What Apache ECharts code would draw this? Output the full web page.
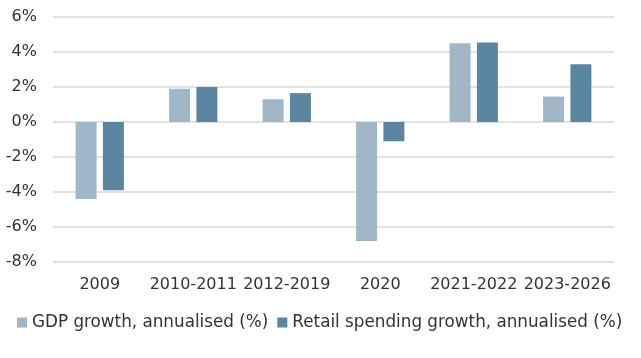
<!DOCTYPE html>
<html><head><meta charset="utf-8">
<script src="https://cdn.jsdelivr.net/npm/echarts@6/dist/echarts.min.js"></script>
<style>html,body{margin:0;padding:0;background:#fff}#c{width:641px;height:358px}</style>
</head><body><div id="c"></div>
<script>
const categories = ['2009','2010-2011','2012-2019','2020','2021-2022','2023-2026'];
const gdpGrowth = [-4.4, 1.9, 1.3, -6.8, 4.5, 1.45];
const retailGrowth = [-3.9, 2.0, 1.65, -1.1, 4.55, 3.3];
const seriesNames = ['GDP growth, annualised (%)', 'Retail spending growth, annualised (%)'];
const yTicks = {min: -8, max: 6, interval: 2};

const font = 'DejaVu Sans';
const chart = echarts.init(document.getElementById('c'), null, {renderer: 'canvas'});
chart.setOption({
  animation: false,
  textStyle: {fontFamily: font},
  grid: {left: 53, right: 27, top: 17, bottom: 96, containLabel: false},
  legend: {
    bottom: 22, left: 12, width: 700, padding: 5,
    itemWidth: 10, itemHeight: 10, itemGap: 9,
    icon: 'rect',
    textStyle: {fontFamily: font, fontSize: 16.8, color: '#333'},
    data: seriesNames
  },
  xAxis: {
    type: 'category', data: categories,
    axisLine: {show: false}, axisTick: {show: false},
    axisLabel: {fontFamily: font, fontSize: 16, color: '#333', margin: 15, interval: 0}
  },
  yAxis: {
    type: 'value', min: yTicks.min, max: yTicks.max, interval: yTicks.interval,
    axisLine: {show: false}, axisTick: {show: false},
    axisLabel: {fontFamily: font, fontSize: 16, color: '#333', margin: 16, formatter: v => v + '%'},
    splitLine: {lineStyle: {color: '#d9d9d9', width: 1.5}}
  },
  series: [
    {name: seriesNames[0], type: 'bar', data: gdpGrowth, barWidth: 21, barGap: '30%',
     itemStyle: {color: '#9fb7c7'}},
    {name: seriesNames[1], type: 'bar', data: retailGrowth, barWidth: 21,
     itemStyle: {color: '#5b86a1'}}
  ]
});
</script></body></html>
